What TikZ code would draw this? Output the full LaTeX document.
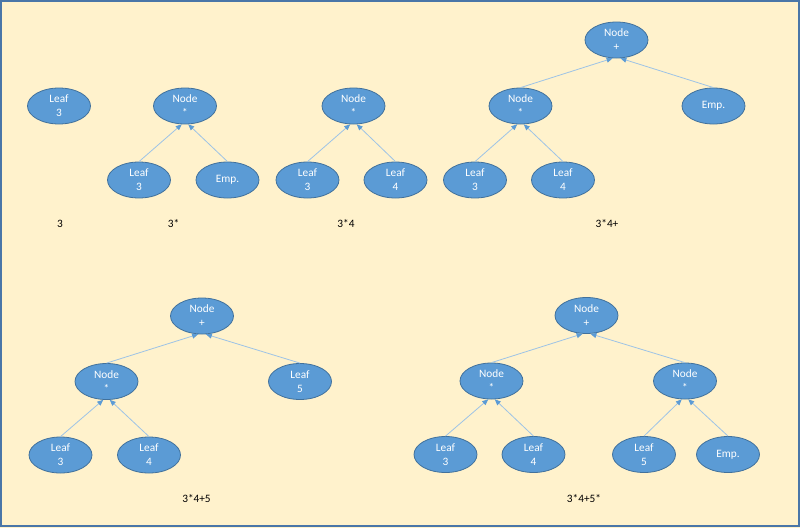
\documentclass[tikz,border=0pt]{standalone}
\usepackage{fontspec}
\setmainfont{Carlito}
\usetikzlibrary{shapes.geometric,arrows.meta}
\definecolor{bgc}{HTML}{FFF2CC}
\definecolor{framec}{HTML}{4A76A8}
\definecolor{nodefill}{HTML}{5B9BD5}
\definecolor{nodeline}{HTML}{41719C}
\definecolor{edgec}{HTML}{9DC3E6}
\tikzset{
  tnode/.style={ellipse, fill=nodefill, draw=nodeline, line width=0.8pt,
    minimum width=63pt, minimum height=36pt, inner sep=0pt,
    text=white, align=center, font=\fontsize{11.3}{14}\selectfont},
  edge/.style={draw=edgec, line width=0.8pt,
    -{Triangle[length=6pt,width=5pt,fill=nodefill,color=nodefill]}},
  caption/.style={font=\fontsize{11.3}{14}\selectfont, text=black, inner sep=0pt}
}
\begin{document}
\begin{tikzpicture}[x=1pt,y=-1pt]
\fill[bgc] (0,0) rectangle (800,528);
\draw[framec, line width=2pt] (1,1) rectangle (799,526);
\useasboundingbox (0,0) rectangle (800,528);

% tree 1
\node[tnode] (a1) at (59,106) {Leaf\\3};
\node[caption] (c1) at (60,224) {3};

% tree 2
\node[tnode] (b0) at (185,106) {Node\\*};
\node[tnode] (b1) at (139,180) {Leaf\\3};
\node[tnode] (b2) at (227.5,180) {Emp.};
\draw[edge] (b1.north) -- (b0.260);
\draw[edge] (b2.north) -- (b0.280);
\node[caption] (c2) at (173.5,224) {3*};

% tree 3
\node[tnode] (d0) at (353.5,106) {Node\\*};
\node[tnode] (d1) at (307.5,180) {Leaf\\3};
\node[tnode] (d2) at (395.5,180) {Leaf\\4};
\draw[edge] (d1.north) -- (d0.260);
\draw[edge] (d2.north) -- (d0.280);
\node[caption] (c3) at (346,224) {3*4};

% tree 4
\node[tnode] (e0) at (616.5,40) {Node\\+};
\node[tnode] (e1) at (520.5,106) {Node\\*};
\node[tnode] (e2) at (713.5,106) {Emp.};
\node[tnode] (e3) at (475,180) {Leaf\\3};
\node[tnode] (e4) at (563,180) {Leaf\\4};
\draw[edge] (e1.north) -- (e0.258);
\draw[edge] (e2.north) -- (e0.282);
\draw[edge] (e3.north) -- (e1.260);
\draw[edge] (e4.north) -- (e1.280);
\node[caption] (c4) at (607,224) {3*4+};

% tree 5
\node[tnode] (f0) at (202,316) {Node\\+};
\node[tnode] (f1) at (106.5,381.5) {Node\\*};
\node[tnode] (f2) at (300,381.5) {Leaf\\5};
\node[tnode] (f3) at (60.5,455) {Leaf\\3};
\node[tnode] (f4) at (149,455) {Leaf\\4};
\draw[edge] (f1.north) -- (f0.258);
\draw[edge] (f2.north) -- (f0.282);
\draw[edge] (f3.north) -- (f1.260);
\draw[edge] (f4.north) -- (f1.280);
\node[caption] (c5) at (196.5,498.5) {3*4+5};

% tree 6
\node[tnode] (g0) at (586.5,315.5) {Node\\+};
\node[tnode] (g1) at (491.5,381) {Node\\*};
\node[tnode] (g2) at (685,381) {Node\\*};
\node[tnode] (g3) at (445.5,454.5) {Leaf\\3};
\node[tnode] (g4) at (533.5,454.5) {Leaf\\4};
\node[tnode] (g5) at (644,454.5) {Leaf\\5};
\node[tnode] (g6) at (728,454.5) {Emp.};
\draw[edge] (g1.north) -- (g0.258);
\draw[edge] (g2.north) -- (g0.282);
\draw[edge] (g3.north) -- (g1.260);
\draw[edge] (g4.north) -- (g1.280);
\draw[edge] (g5.north) -- (g2.260);
\draw[edge] (g6.north) -- (g2.280);
\node[caption] (c6) at (584,498.5) {3*4+5*};
\end{tikzpicture}
\end{document}
